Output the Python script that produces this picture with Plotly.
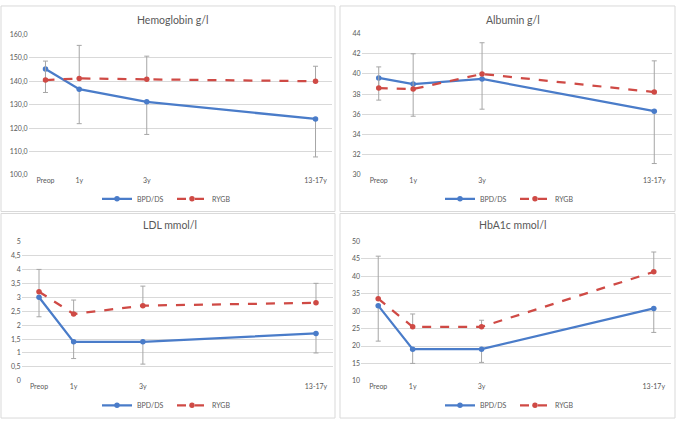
import plotly.graph_objects as go

# ---------------- data ----------------
time_labels = ["Preop", "1y", "3y", "13-17y"]
time_points = [0, 1, 3, 8]
series_names = ["BPD/DS", "RYGB"]

hb_bpd = [145.2, 136.6, 131.2, 123.9]
hb_bpd_minus = [10.0, 14.7, 13.9, 16.2]
hb_rygb = [140.5, 141.2, 140.8, 140.0]
hb_rygb_plus = [8.1, 14.1, 9.9, 6.4]

alb_bpd = [39.6, 39.0, 39.5, 36.3]
alb_bpd_minus = [2.2, 3.2, 3.0, 5.2]
alb_rygb = [38.6, 38.5, 40.0, 38.2]
alb_rygb_plus = [2.1, 3.5, 3.1, 3.1]

ldl_bpd = [3.0, 1.4, 1.4, 1.7]
ldl_bpd_minus = [0.7, 0.6, 0.8, 0.7]
ldl_rygb = [3.2, 2.4, 2.7, 2.8]
ldl_rygb_plus = [0.8, 0.5, 0.7, 0.7]

hba_bpd = [31.6, 19.1, 19.1, 30.8]
hba_bpd_minus = [10.2, 4.1, 3.8, 6.9]
hba_rygb = [33.6, 25.5, 25.5, 41.3]
hba_rygb_plus = [12.2, 3.7, 1.9, 5.7]

titles = ["Hemoglobin g/l", "Albumin g/l", "LDL mmol/l", "HbA1c mmol/l"]

# ---------------- style ----------------
W, H = 676, 423
BLUE = "#4a7cc9"
RED = "#cf4a45"
GRID = "#d9d9d9"
TXT = "#595959"
ERR = "#a6a6a6"
FONT = "Lato, Carlito, 'Liberation Sans', sans-serif"

def px_x(a, b):
    return [a / W, b / W]

def px_y(top, bottom):
    return [1 - bottom / H, 1 - top / H]

panels = [
    dict(bpd=hb_bpd, bm=hb_bpd_minus, ry=hb_rygb, rp=hb_rygb_plus,
         xd=px_x(28.6, 332.4), yd=px_y(30.0, 173.7), yr=[100, 160], dt=10, fmt=".1f",
         title_xy=(172, 15), legend_xy=(172, 198)),
    dict(bpd=alb_bpd, bm=alb_bpd_minus, ry=alb_rygb, rp=alb_rygb_plus,
         xd=px_x(361.5, 671.5), yd=px_y(29.3, 173.3), yr=[30, 44], dt=2, fmt="",
         title_xy=(513, 15), legend_xy=(515, 198)),
    dict(bpd=ldl_bpd, bm=ldl_bpd_minus, ry=ldl_rygb, rp=ldl_rygb_plus,
         xd=px_x(21.7, 333.3), yd=px_y(241.7, 384.0), yr=[0, 5], dt=0.5, fmt="",
         title_xy=(170, 225), legend_xy=(172, 409)),
    dict(bpd=hba_bpd, bm=hba_bpd_minus, ry=hba_rygb, rp=hba_rygb_plus,
         xd=px_x(361.0, 671.0), yd=px_y(241.7, 384.0), yr=[10, 50], dt=5, fmt="",
         title_xy=(513, 225), legend_xy=(515, 409)),
]

fig = go.Figure()
layout = dict(
    width=W, height=H,
    margin=dict(l=0, r=0, t=0, b=0),
    paper_bgcolor="white", plot_bgcolor="white",
    separators=", ",
    font=dict(family=FONT, color=TXT, size=7),
    showlegend=True,
    annotations=[], shapes=[],
)

for i, p in enumerate(panels):
    n = i + 1
    sfx = "" if n == 1 else str(n)
    xa, ya = "x" + sfx, "y" + sfx
    leg = "legend" + sfx
    fig.add_trace(go.Scatter(
        x=time_points, y=p["bpd"], name=series_names[0], mode="lines+markers",
        line=dict(color=BLUE, width=2.25), marker=dict(color=BLUE, size=5.5),
        error_y=dict(type="data", symmetric=False, array=[0] * 4, arrayminus=p["bm"],
                     color=ERR, thickness=1, width=2.5),
        xaxis=xa, yaxis=ya, legend=leg, cliponaxis=False,
    ))
    fig.add_trace(go.Scatter(
        x=time_points, y=p["ry"], name=series_names[1], mode="lines+markers",
        line=dict(color=RED, width=2.25, dash="dash"), marker=dict(color=RED, size=5.5),
        error_y=dict(type="data", symmetric=False, array=p["rp"], arrayminus=[0] * 4,
                     color=ERR, thickness=1, width=2.5),
        xaxis=xa, yaxis=ya, legend=leg, cliponaxis=False,
    ))
    layout["xaxis" + sfx] = dict(
        domain=p["xd"], anchor=ya, range=[-0.5, 8.5],
        tickmode="array", tickvals=time_points, ticktext=time_labels,
        showgrid=False, zeroline=False, showline=False, ticks="",
        tickfont=dict(size=7, color=TXT), fixedrange=True,
    )
    layout["yaxis" + sfx] = dict(
        domain=p["yd"], anchor=xa, range=p["yr"], dtick=p["dt"], tick0=0,
        tickformat=p["fmt"], showgrid=True, gridcolor=GRID, gridwidth=1,
        zeroline=False, showline=False, ticks="",
        tickfont=dict(size=7, color=TXT), fixedrange=True,
    )
    lx, ly = p["legend_xy"]
    layout[leg] = dict(
        x=lx / W, y=1 - ly / H, xanchor="center", yanchor="middle",
        orientation="h", font=dict(size=7, color=TXT), bgcolor="rgba(0,0,0,0)",
        itemwidth=30, tracegroupgap=0, entrywidth=30, entrywidthmode="pixels",
    )
    tx, ty = p["title_xy"]
    layout["annotations"].append(dict(
        text=titles[i], x=tx / W, y=1 - ty / H, xref="paper", yref="paper",
        xanchor="center", yanchor="middle", showarrow=False,
        font=dict(size=10.5, color=TXT, family=FONT),
    ))

# panel borders
for (a, b, c, d) in [(1, 1, 335, 211), (340, 1, 675, 211), (1, 213, 335, 422), (340, 213, 675, 422)]:
    layout["shapes"].append(dict(
        type="rect", xref="paper", yref="paper",
        x0=a / W, x1=c / W, y0=1 - d / H, y1=1 - b / H,
        line=dict(color=GRID, width=1), fillcolor="rgba(0,0,0,0)", layer="below",
    ))

fig.update_layout(**layout)
fig.write_html(
    "out.html",
    config=dict(displayModeBar=False),
    post_script="document.body.style.margin='0px';document.body.style.padding='0px';document.body.style.overflow='hidden';",
)
